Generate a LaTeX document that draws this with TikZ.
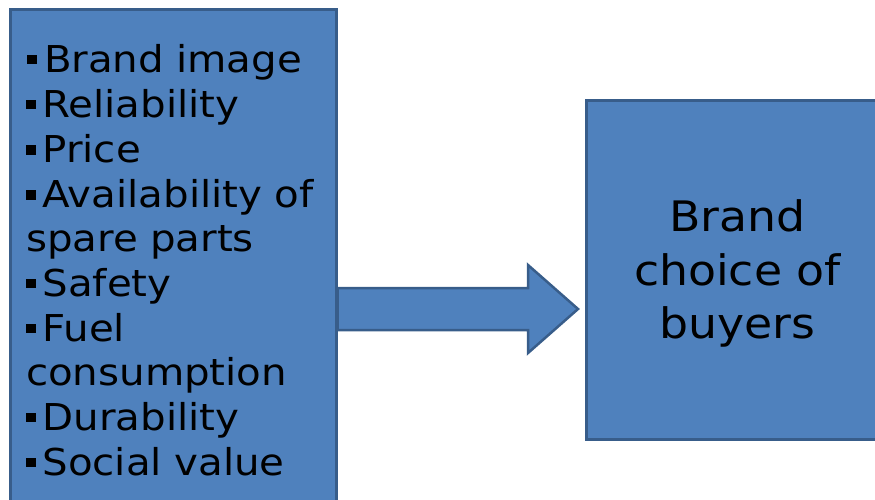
\documentclass[tikz,border=0pt]{standalone}
\usepackage{fontspec}
\setmainfont[FakeStretch=1.09]{DejaVu Sans}
\usetikzlibrary{calc,backgrounds}
\definecolor{boxfill}{HTML}{4F81BD}
\definecolor{boxline}{HTML}{385D8A}
% small square list marker
\newcommand{\itm}{\kern1.5pt\rule[8pt]{9.5pt}{9.5pt}\kern7pt}
\tikzset{
  panel/.style={draw=boxline, fill=boxfill, line width=3pt, inner sep=0pt},
  flow/.style={draw=boxline, fill=boxfill, line width=2.5pt, line join=miter}
}
\begin{document}
\begin{tikzpicture}[x=1pt,y=-1pt]
\useasboundingbox (0,0) rectangle (875,499);
\clip (0,0) rectangle (875,499);
% factor list
\node[panel, minimum width=326pt, minimum height=502pt, text width=294pt,
      align=left, font=\fontsize{37}{43.6}\selectfont] (factors) at (173,260)
  {\itm Brand image\\ \itm Reliability\\ \itm Price\\ \itm Availability of\\
   spare parts\\ \itm Safety\\ \itm Fuel\\ consumption\\ \itm Durability\\ \itm Social value};
% outcome
\node[panel, minimum width=303pt, minimum height=339pt] (choice) at (737.5,269.5) {};
\node[align=center, font=\fontsize{42}{53.5}\selectfont] (choicetext)
  at ($(choice.center)+(0,4)$) {Brand\\ choice of\\ buyers};
% block arrow between the two boxes
\coordinate (tail) at (factors.east |- 0,309);
\coordinate (tip) at (578,309);
\begin{scope}[on background layer]
\draw[flow] ($(tail)+(0,-21)$) -- ($(tip)+(-50,-21)$) -- ($(tip)+(-50,-44)$) -- (tip)
  -- ($(tip)+(-50,44)$) -- ($(tip)+(-50,21)$) -- ($(tail)+(0,21)$) -- cycle;
\end{scope}
\end{tikzpicture}
\end{document}
